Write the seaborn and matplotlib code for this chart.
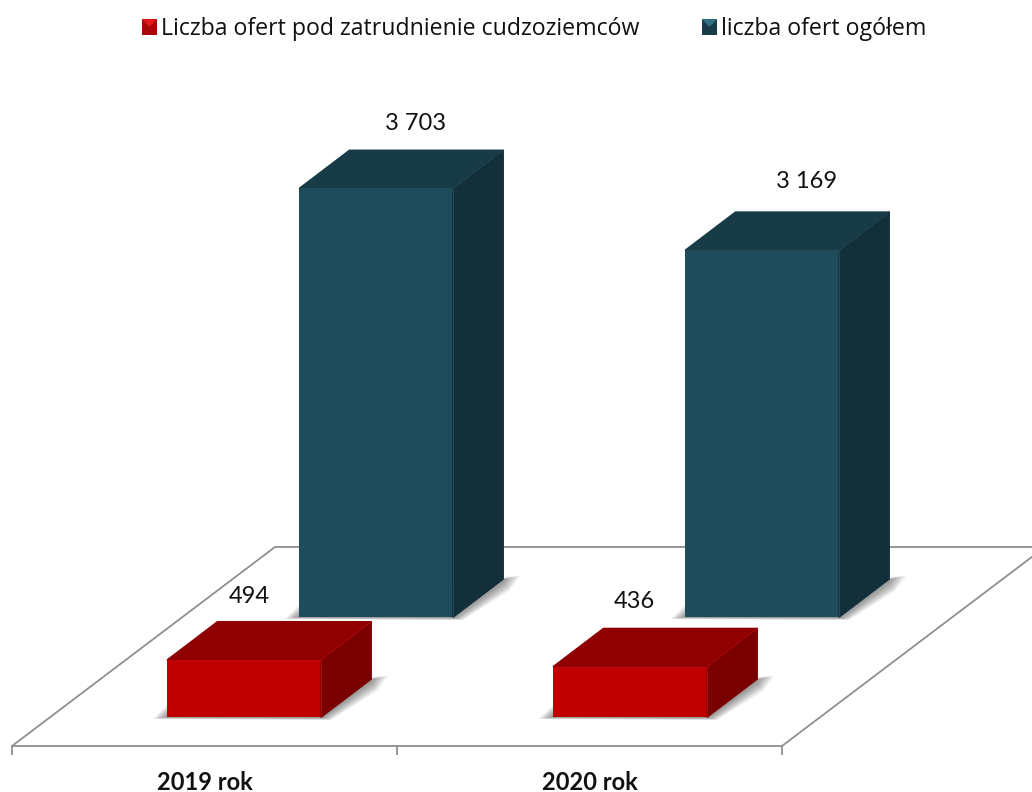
import numpy as np
import pandas as pd
import seaborn as sns
import matplotlib.pyplot as plt
from matplotlib.legend_handler import HandlerBase
from matplotlib.patches import Patch, Polygon

# data
years = ['2019 rok', '2020 rok']
foreign_offers = [494, 436]
all_offers = [3703, 3169]
foreign_labels = ['494', '436']
all_labels = ['3 703', '3 169']
series_names = ['Liczba ofert pod zatrudnienie cudzoziemców', 'liczba ofert ogółem']

W, H = 1032, 792
PX_X = 1 / 386       # category units per pixel
PX_Y = 4000 / 463    # value units per pixel
DEPTH_X, DEPTH_Y = 50, 38
GREY = '#8f8f8f'

RED = dict(front='#c00000', top='#900000', side='#7a0000', edge='#c81010')
BLUE = dict(front='#1e4c5c', top='#173b47', side='#132f3a', edge='#265565')

sns.set_theme(style='white')
plt.rcParams['font.family'] = ['Open Sans', 'DejaVu Sans']

fig = plt.figure(figsize=(W / 100, H / 100), dpi=100, facecolor='white')


def px_axes(left, base, width, height, z):
    ax = fig.add_axes([left / W, (H - base) / H, width / W, height / H])
    ax.set_zorder(z)
    return ax


def box3d(ax, values, labels, cols, label_dx, label_dy):
    df = pd.DataFrame({'rok': years, 'oferty': values})
    sns.barplot(data=df, x='rok', y='oferty', ax=ax, color=cols['front'], saturation=1,
                width=0.398, linewidth=0, zorder=3)
    ax.set_xlim(-0.5, 1.5)
    ax.set_ylim(0, 4000)
    ax.axis('off')
    dx, dy = DEPTH_X * PX_X, DEPTH_Y * PX_Y
    for bar, txt, ldx, ldy in zip(list(ax.patches), labels, label_dx, label_dy):
        x0, x1 = bar.get_x(), bar.get_x() + bar.get_width()
        v = bar.get_height()
        # soft shadow on the floor
        for k in range(10):
            g = k / 9
            sh = [(x0 - (2 + 13 * g) * PX_X, -(0.5 + 1.5 * g) * PX_Y),
                  (x0, (2 + 10 * g) * PX_Y),
                  (x1 + dx, dy),
                  (x1 + dx + (3 + 14 * g) * PX_X, dy + 3 * PX_Y),
                  (x1 + dx + (1 + 5 * g) * PX_X, dy - (3 + 9 * g) * PX_Y),
                  (x1 + (2 + 8 * g) * PX_X, -(1 + 2 * g) * PX_Y)]
            ax.add_patch(Polygon(sh, closed=True, fc='#303030', ec='none', alpha=0.06,
                                 zorder=1, clip_on=False))
        top = [(x0, v), (x1, v), (x1 + dx, v + dy), (x0 + dx, v + dy)]
        side = [(x1, 0), (x1 + dx, dy), (x1 + dx, v + dy), (x1, v)]
        ax.add_patch(Polygon(top, closed=True, fc=cols['top'], ec=cols['top'], lw=1.2,
                             joinstyle='round', zorder=3, clip_on=False))
        ax.add_patch(Polygon(side, closed=True, fc=cols['side'], ec=cols['side'], lw=1.2,
                             joinstyle='round', zorder=3, clip_on=False))
        # thin bevel along the front edges
        ax.plot([x0, x1, x1], [v, v, 0], color=cols['edge'], lw=0.7, alpha=0.7, zorder=4,
                clip_on=False)
        ax.plot([x1, x1 + dx], [v, v + dy], color=cols['edge'], lw=0.7, alpha=0.7, zorder=4,
                clip_on=False)
        ax.text((x0 + x1) / 2 + ldx * PX_X, v + ldy * PX_Y, txt, ha='center', va='center',
                fontsize=17, family='Lato', color='#111111', zorder=5)


# floor with the category axis
floor = px_axes(12, 746, 770, 199, 0)
floor.set_xlim(0, 2)
floor.set_ylim(0, 1)
floor.patch.set_visible(False)
for name in ['top', 'left', 'right']:
    floor.spines[name].set_visible(False)
floor.spines['bottom'].set_color(GREY)
floor.spines['bottom'].set_linewidth(1.3)
floor.set_yticks([])
floor.set_xticks([0, 1, 2])
floor.set_xticklabels([])
floor.tick_params(axis='x', which='major', bottom=True, length=6.5, width=1.3, color=GREY)
floor.set_xticks([0.5, 1.5], years, minor=True)
floor.tick_params(axis='x', which='minor', bottom=False, pad=14)
for lab in floor.get_xticklabels(minor=True):
    lab.set_fontfamily('Lato')
    lab.set_fontweight('bold')
    lab.set_fontsize(17)
    lab.set_color('#111111')
back = 263 / 385
floor.plot([0, back, 3], [0, 1, 1], color=GREY, lw=1.3, clip_on=False)
floor.plot([2, 2 + back], [0, 1], color=GREY, lw=1.3, clip_on=False)

# two boxes rows, the taller one stands further back
ax_all = px_axes(183.3, 617, 772, 463, 1)
box3d(ax_all, all_offers, all_labels, BLUE, [39, 44], [65, 69])
ax_foreign = px_axes(51.3, 717, 772, 463, 2)
box3d(ax_foreign, foreign_offers, foreign_labels, RED, [5, 4], [63, 65])


# small bevelled square for the legend
class BevelHandler(HandlerBase):
    def create_artists(self, legend, orig, xd, yd, w, h, fs, trans):
        x0, y0, x1, y1 = -xd, -yd, -xd + w, -yd + h
        cx, cy = (x0 + x1) / 2, (y0 + y1) / 2
        main = Polygon([(x0, y0), (x1, y0), (x1, y1), (x0, y1)], closed=True,
                       fc=orig.get_facecolor(), ec='none', transform=trans)
        tri = Polygon([(x0, y1), (x1, y1), (cx, cy)], closed=True,
                      fc=orig.get_edgecolor(), ec='none', transform=trans)
        return [main, tri]


handles = [Patch(facecolor='#a80808', edgecolor='#e01818'),
           Patch(facecolor='#173c48', edgecolor='#2f7085')]
leg = fig.legend(handles, series_names, handler_map={Patch: BevelHandler()}, ncol=2,
                 loc='center left', bbox_to_anchor=(121 / W, 1 - 29 / H), frameon=False,
                 fontsize=16.7, handlelength=0.65, handleheight=0.65, handletextpad=0.17,
                 columnspacing=2.7, labelcolor='#111111')

fig.savefig('out.png', dpi=100)
